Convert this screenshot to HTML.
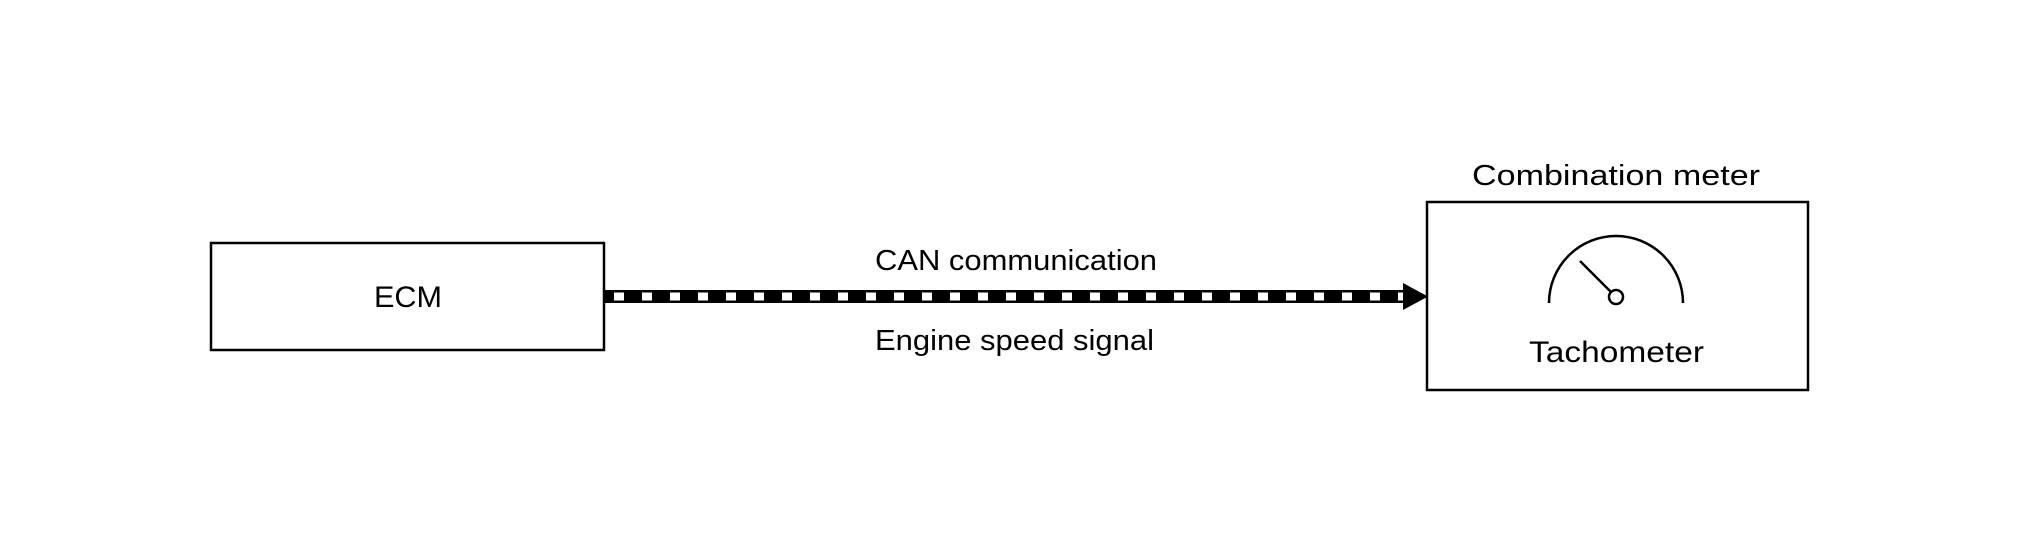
<!DOCTYPE html>
<html><head><style>
html,body{margin:0;padding:0;background:#fff;}
svg{display:block;}
text{font-family:"Liberation Sans",sans-serif;fill:#000;}
</style></head><body>
<svg width="2020" height="544" viewBox="0 0 2020 544" xmlns="http://www.w3.org/2000/svg">
<rect x="211" y="243" width="393" height="107" fill="none" stroke="#000" stroke-width="2.5"/>
<text x="374" y="307" font-size="30" textLength="68" lengthAdjust="spacingAndGlyphs">ECM</text>
<rect x="1427" y="202" width="381" height="188" fill="none" stroke="#000" stroke-width="2.5"/>
<text x="1472" y="185" font-size="29" textLength="288" lengthAdjust="spacingAndGlyphs">Combination meter</text>
<text x="1529" y="362" font-size="30" textLength="175" lengthAdjust="spacingAndGlyphs">Tachometer</text>
<text x="875" y="270" font-size="29" textLength="282" lengthAdjust="spacingAndGlyphs">CAN communication</text>
<text x="875" y="350" font-size="29" textLength="279" lengthAdjust="spacingAndGlyphs">Engine speed signal</text>
<rect x="604" y="290" width="802" height="13" fill="#000"/>
<line x1="614" y1="296.5" x2="1404" y2="296.5" stroke="#fff" stroke-width="8" stroke-dasharray="10 18"/>
<polygon points="1403,283 1428,296.5 1403,310" fill="#000"/>
<path d="M1549,303 A67,67 0 1 1 1683,303" fill="none" stroke="#000" stroke-width="2.5"/>
<line x1="1580" y1="261" x2="1611" y2="292" stroke="#000" stroke-width="2.5"/>
<circle cx="1616" cy="297" r="7" fill="#fff" stroke="#000" stroke-width="2.5"/>
</svg>
</body></html>
